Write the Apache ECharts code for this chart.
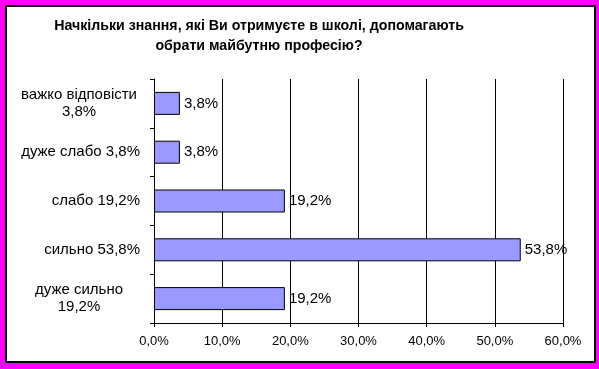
<!DOCTYPE html>
<html>
<head>
<meta charset="utf-8">
<script src="https://cdn.jsdelivr.net/npm/echarts@6/dist/echarts.min.js"></script>
<style>
html,body{margin:0;padding:0;width:599px;height:369px;background:#FF00FF;overflow:hidden;}
#frame{position:absolute;left:5px;top:5px;width:587px;height:354px;border:2px solid #000;background:#fff;}
#chart{position:absolute;left:0;top:0;width:599px;height:369px;}
</style>
</head>
<body>
<div id="frame"></div>
<div id="chart"></div>
<script>
var titleLines = ['Начкільки знання, які Ви отримуєте в школі, допомагають', 'обрати майбутню професію?'];
var categories = ['важко відповісти\n3,8%', 'дуже слабо 3,8%', 'слабо 19,2%', 'сильно 53,8%', 'дуже сильно\n19,2%'];
var values = [3.8, 3.8, 19.2, 53.8, 19.2];
var xTicks = {min: 0, max: 60, interval: 10};

function pct(v) { return v.toFixed(1).replace('.', ',') + '%'; }

var chart = echarts.init(document.getElementById('chart'), null, {renderer: 'canvas'});
var font = 'Liberation Sans, Arial, sans-serif';
chart.setOption({
  backgroundColor: 'transparent',
  animation: false,
  graphic: [{
    type: 'text',
    x: 259, y: 36,
    style: {
      text: titleLines.join('\n'),
      align: 'center', verticalAlign: 'middle',
      font: 'bold 14.2px ' + font,
      lineHeight: 20,
      fill: '#000'
    }
  }],
  grid: {left: 154, right: 36, top: 79, bottom: 46, containLabel: false},
  xAxis: {
    type: 'value', min: xTicks.min, max: xTicks.max, interval: xTicks.interval,
    axisLine: {show: true, lineStyle: {color: '#000', width: 1}},
    axisTick: {show: true, length: 4, lineStyle: {color: '#000'}},
    splitLine: {show: true, lineStyle: {color: '#000', width: 1}},
    axisLabel: {formatter: pct, color: '#000', fontFamily: font, fontSize: 13, margin: 12}
  },
  yAxis: {
    type: 'category', data: categories, inverse: true,
    axisLine: {show: true, lineStyle: {color: '#000', width: 1}},
    axisTick: {show: true, length: 4, alignWithLabel: false, lineStyle: {color: '#000'}},
    axisLabel: {
      color: '#000', fontFamily: font, fontSize: 15, margin: 14, lineHeight: 17,
      formatter: function (v) {
        var parts = v.split('\n');
        if (parts.length > 1) return parts.map(function (p) { return '{c|' + p + '}'; }).join('\n');
        return v;
      },
      rich: {c: {width: 122, align: 'center', fontFamily: font, fontSize: 15, lineHeight: 17, color: '#000'}}
    }
  },
  series: [{
    type: 'bar', data: values, barWidth: 23,
    itemStyle: {color: '#9999FF', borderColor: '#000', borderWidth: 1},
    label: {show: true, position: 'right', distance: 4, formatter: function (p) { return pct(p.value); },
      color: '#000', fontFamily: font, fontSize: 15}
  }]
});
</script>
</body>
</html>
